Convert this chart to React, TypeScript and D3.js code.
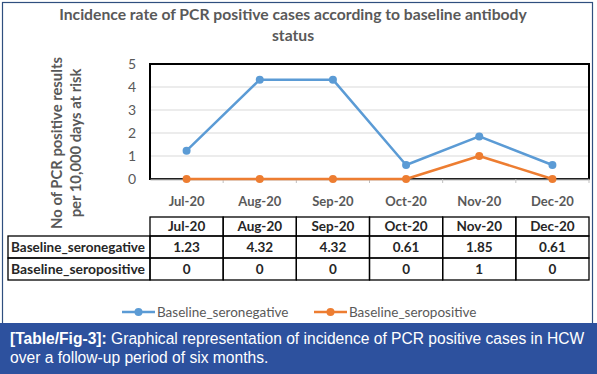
import React, { useEffect, useRef } from "react";
import * as d3 from "d3";

const months = ["Jul-20", "Aug-20", "Sep-20", "Oct-20", "Nov-20", "Dec-20"];
const seronegative = [1.23, 4.32, 4.32, 0.61, 1.85, 0.61];
const seropositive = [0, 0, 0, 0, 1, 0];
const seriesNames = ["Baseline_seronegative", "Baseline_seropositive"];
const yTicks = [0, 1, 2, 3, 4, 5];

const blue = "#5b9bd5";
const orange = "#ed7d31";
const grey = "#595959";
const font = "Lato, 'Open Sans', sans-serif";

const W = 597;
const H = 374;

const App = () => {
  const ref = useRef<SVGSVGElement>(null);

  useEffect(() => {
    const svg = d3.select(ref.current);
    svg.selectAll("*").remove();

    const x = d3.scaleBand().domain(months).range([150, 589]);
    const y = d3.scaleLinear().domain([0, 5]).range([179, 64]);
    const cx = (m: string) => (x(m) as number) + x.bandwidth() / 2;

    svg.append("rect").attr("width", W).attr("height", H).attr("fill", "#fff");

    // outer frame
    svg.append("rect")
      .attr("x", 2.5).attr("y", 2.5).attr("width", 590).attr("height", 330)
      .attr("fill", "none").attr("stroke", "#2f4f7f").attr("stroke-width", 1.2);

    // title
    const title = svg.append("text")
      .attr("text-anchor", "middle")
      .attr("font-family", font).attr("font-weight", "bold")
      .attr("font-size", 15.7).attr("fill", grey);
    title.append("tspan").attr("x", 293).attr("y", 20)
      .text("Incidence rate of PCR positive cases according to baseline antibody");
    title.append("tspan").attr("x", 293).attr("y", 41).text("status");

    // grid
    svg.append("g").selectAll("line")
      .data(yTicks.filter((t) => t > 0 && t < 5))
      .join("line")
      .attr("x1", 150).attr("x2", 589)
      .attr("y1", (d) => y(d)).attr("y2", (d) => y(d))
      .attr("stroke", "#d9d9d9").attr("stroke-width", 1);

    // plot frame
    svg.append("rect")
      .attr("x", 150).attr("y", y(5)).attr("width", 439).attr("height", y(0) - y(5))
      .attr("fill", "none").attr("stroke", "#000").attr("stroke-width", 2);

    // x axis
    const xAxis = svg.append("g")
      .attr("transform", `translate(0,${y(0)})`)
      .call(d3.axisBottom(x).tickSize(4).tickSizeOuter(0));
    xAxis.select(".domain").attr("stroke", "#7f7f7f").attr("stroke-width", 1.5);
    xAxis.selectAll(".tick line").remove();
    xAxis.selectAll("text")
      .attr("font-family", font).attr("font-weight", "bold")
      .attr("font-size", 13).attr("fill", grey).attr("dy", "1.5em");
    const edges = x.domain().map((m) => x(m) as number).slice(1).concat([589]);
    xAxis.selectAll("line.edge").data(edges).join("line")
      .attr("class", "edge").attr("x1", (d) => d).attr("x2", (d) => d)
      .attr("y1", 0).attr("y2", 4).attr("stroke", "#bfbfbf");

    // y axis labels
    const yAxis = svg.append("g")
      .attr("transform", "translate(150,0)")
      .call(d3.axisLeft(y).tickValues(yTicks).tickFormat(d3.format("d")).tickSize(0).tickPadding(14));
    yAxis.select(".domain").remove();
    yAxis.selectAll("text")
      .attr("font-family", font).attr("font-size", 14).attr("fill", grey);

    // y title
    const yt = svg.append("text")
      .attr("transform", "translate(0,143) rotate(-90)")
      .attr("text-anchor", "middle")
      .attr("font-family", font).attr("font-weight", "bold")
      .attr("font-size", 14.8).attr("fill", grey);
    yt.append("tspan").attr("x", 0).attr("y", 62).text("No of PCR positive results");
    yt.append("tspan").attr("x", 0).attr("y", 81).text("per 10,000 days at risk");

    // lines
    const series = [
      { name: seriesNames[0], values: seronegative, color: blue },
      { name: seriesNames[1], values: seropositive, color: orange },
    ];
    const line = d3.line<number>()
      .x((_, i) => cx(months[i]))
      .y((d) => y(d));
    series.slice().reverse().forEach((s) => {
      svg.append("path")
        .datum(s.values)
        .attr("d", line)
        .attr("fill", "none").attr("stroke", s.color).attr("stroke-width", 2.5)
        .attr("stroke-linejoin", "round");
      svg.append("g").selectAll("circle")
        .data(s.values).join("circle")
        .attr("cx", (_, i) => cx(months[i])).attr("cy", (d) => y(d))
        .attr("r", 4).attr("fill", s.color);
    });

    // data table
    const rowTop = [217, 236, 258];
    const rowBottom = 280;
    const tableText = "#262626";
    const tbl = svg.append("g").attr("font-family", font).attr("font-weight", "bold")
      .attr("font-size", 13.5).attr("fill", tableText);
    // header
    tbl.selectAll("rect.h").data(months).join("rect")
      .attr("class", "h")
      .attr("x", (d) => x(d) as number).attr("y", rowTop[0])
      .attr("width", x.bandwidth()).attr("height", rowTop[1] - rowTop[0])
      .attr("fill", "none").attr("stroke", "#000").attr("stroke-width", 1.3);
    tbl.selectAll("text.h").data(months).join("text")
      .attr("class", "h")
      .attr("x", (d) => cx(d)).attr("y", (rowTop[0] + rowTop[1]) / 2)
      .attr("dy", "0.35em").attr("text-anchor", "middle").text((d) => d);
    series.forEach((s, r) => {
      const top = rowTop[r + 1];
      const bottom = r === 0 ? rowTop[2] : rowBottom;
      tbl.append("rect")
        .attr("x", 8).attr("y", top).attr("width", 142).attr("height", bottom - top)
        .attr("fill", "none").attr("stroke", "#000").attr("stroke-width", 1.3);
      tbl.append("text")
        .attr("x", 11).attr("y", (top + bottom) / 2).attr("dy", "0.35em")
        .attr("textLength", 134).attr("lengthAdjust", "spacingAndGlyphs")
        .text(s.name);
      tbl.append("g").selectAll("rect").data(months).join("rect")
        .attr("x", (d) => x(d) as number).attr("y", top)
        .attr("width", x.bandwidth()).attr("height", bottom - top)
        .attr("fill", "none").attr("stroke", "#000").attr("stroke-width", 1.3);
      tbl.append("g").selectAll("text").data(s.values).join("text")
        .attr("x", (_, i) => cx(months[i])).attr("y", (top + bottom) / 2)
        .attr("dy", "0.35em").attr("text-anchor", "middle")
        .text((d) => String(d));
    });

    // legend
    const legendX = [122, 314];
    series.forEach((s, i) => {
      const g = svg.append("g").attr("transform", `translate(${legendX[i]},312)`);
      g.append("line").attr("x1", 0).attr("x2", 33).attr("stroke", s.color).attr("stroke-width", 2.5);
      g.append("circle").attr("cx", 16.5).attr("r", 4).attr("fill", s.color);
      g.append("text").attr("x", 35).attr("dy", "0.35em")
        .attr("font-family", font).attr("font-size", 13.5).attr("fill", grey)
        .text(s.name);
    });

    // caption band
    svg.append("rect").attr("x", 0).attr("y", 323).attr("width", W).attr("height", H - 323)
      .attr("fill", "#2d519e");
    const cap = svg.append("text")
      .attr("font-family", "'Liberation Sans', Arial, sans-serif")
      .attr("font-size", 15.6).attr("fill", "#fff");
    const l1 = cap.append("tspan").attr("x", 10).attr("y", 344);
    l1.append("tspan").attr("font-weight", "bold").text("[Table/Fig-3]:");
    l1.append("tspan").text(" Graphical representation of incidence of PCR positive cases in HCW");
    cap.append("tspan").attr("x", 10).attr("y", 363)
      .text("over a follow-up period of six months.");
  }, []);

  return (
    <svg ref={ref} width={W} height={H} style={{ position: "absolute", left: 0, top: 0, display: "block" }} />
  );
};

export default App;
